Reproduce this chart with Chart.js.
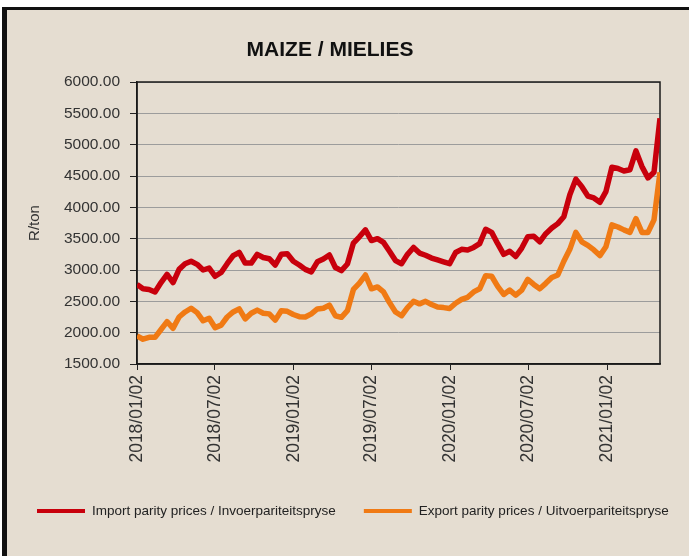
<!DOCTYPE html>
<html>
<head>
<meta charset="utf-8">
<script src="https://cdn.jsdelivr.net/npm/chart.js@4.4.1/dist/chart.umd.min.js"></script>
<style>
  html, body { margin: 0; padding: 0; background: #fff; }
  #wrap { position: relative; width: 689px; height: 556px; background: #e5ddd1; overflow: hidden; }
  #chart { position: absolute; left: 0; top: 0; }
  .edge { position: absolute; background: #111; }
  .blank { position: absolute; background: #fff; }
</style>
</head>
<body>
<div id="wrap">
  <canvas id="chart" width="689" height="556"></canvas>
  <div class="blank" style="left:0;top:0;width:689px;height:7px"></div>
  <div class="edge" style="left:0;top:7px;width:689px;height:3px"></div>
  <div class="blank" style="left:0;top:0;width:2px;height:556px"></div>
  <div class="edge" style="left:2px;top:7px;width:5px;height:549px"></div>
</div>
<script>
// values, one every two weeks from 2018/01/02
const startDate = '2018/01/02';
const stepDays = 14;

const importParity = [
  2770, 2700, 2690, 2650, 2800, 2930, 2800, 3010, 3100, 3140,
  3090, 3000, 3030, 2900, 2960, 3100, 3230, 3280, 3110, 3110,
  3250, 3200, 3180, 3080, 3250, 3260, 3140, 3080, 3010, 2970,
  3130, 3176, 3240, 3040, 2990, 3096, 3430, 3530, 3640, 3470,
  3500, 3440, 3300, 3150, 3100, 3250, 3360, 3270, 3235, 3190,
  3160, 3130, 3100, 3280, 3330, 3320, 3360, 3420, 3650, 3600,
  3420, 3250, 3300, 3215, 3350, 3530, 3540, 3450, 3580, 3670,
  3740, 3850, 4200, 4450, 4330, 4180, 4150, 4080, 4250, 4640,
  4620, 4580, 4600, 4900, 4650, 4470, 4560, 5420
];
const exportParity = [
  1950, 1895, 1925, 1925, 2050, 2175, 2070, 2250, 2330, 2390,
  2320, 2190, 2230, 2080, 2120, 2250, 2330, 2380, 2220, 2310,
  2360, 2310, 2300, 2200, 2350, 2340, 2290, 2255, 2250, 2300,
  2378, 2390, 2440, 2270, 2245, 2351, 2690, 2790, 2920, 2700,
  2730, 2650, 2480, 2330, 2270, 2400, 2500, 2460, 2500, 2450,
  2410, 2400, 2385, 2470, 2530, 2564, 2650, 2700, 2910, 2900,
  2740, 2610, 2680, 2600, 2680, 2850, 2770, 2700, 2787, 2880,
  2920, 3140, 3330, 3600, 3450, 3394, 3320, 3230, 3370, 3720,
  3686, 3640, 3600, 3819, 3600, 3600, 3800, 4560
];
const tickLabels = ['2018/01/02', '2018/07/02', '2019/01/02', '2019/07/02', '2020/01/02', '2020/07/02', '2021/01/02'];
const yMin = 1500, yMax = 6000, yStep = 500;

function dayOf(s) {
  const [y, m, d] = s.split('/').map(Number);
  const [y0, m0, d0] = startDate.split('/').map(Number);
  return Math.round((Date.UTC(y, m - 1, d) - Date.UTC(y0, m0 - 1, d0)) / 86400000);
}
const fmt = (t) => t.getUTCFullYear() + '/' + String(t.getUTCMonth() + 1).padStart(2, '0') + '/' + String(t.getUTCDate()).padStart(2, '0');
const dates = [];
for (let i = 0; i < importParity.length; i++) {
  const [y0, m0, d0] = startDate.split('/').map(Number);
  dates.push(fmt(new Date(Date.UTC(y0, m0 - 1, d0 + i * stepDays))));
}
const tickDays = tickLabels.map(dayOf);
const toPoints = (vals) => vals.map((v, i) => ({ x: dayOf(dates[i]), y: v }));

const RED = '#c8000c', ORANGE = '#f07a14';
const font = "'Liberation Sans', Arial, sans-serif";

// plot frame (top/right sides too) under the lines
const frame = {
  id: 'frame',
  beforeDatasetsDraw(chart) {
    const { ctx, chartArea: a } = chart;
    ctx.save();
    ctx.strokeStyle = '#1a1a1a';
    ctx.lineWidth = 1.5;
    ctx.strokeRect(a.left, a.top, a.width, a.height);
    ctx.restore();
  }
};

// legend row along the bottom, laid out like the original
const bottomLegend = {
  id: 'bottomLegend',
  afterDraw(chart) {
    const ctx = chart.ctx;
    let x = 37;
    const y = 511;
    ctx.save();
    ctx.font = '13.5px ' + font;
    ctx.textBaseline = 'middle';
    chart.data.datasets.forEach((ds) => {
      ctx.fillStyle = ds.borderColor;
      ctx.fillRect(x, y - 2, 48, 4);
      ctx.fillStyle = '#222';
      ctx.fillText(ds.label, x + 55, y);
      x += 55 + ctx.measureText(ds.label).width + 28;
    });
    ctx.restore();
  }
};

new Chart(document.getElementById('chart'), {
  type: 'line',
  data: {
    datasets: [
      { label: 'Import parity prices / Invoerpariteitspryse', data: toPoints(importParity),
        borderColor: RED, backgroundColor: RED, borderWidth: 5.5, pointRadius: 0, tension: 0, borderJoinStyle: 'round' },
      { label: 'Export parity prices / Uitvoerpariteitspryse', data: toPoints(exportParity),
        borderColor: ORANGE, backgroundColor: ORANGE, borderWidth: 5.5, pointRadius: 0, tension: 0, borderJoinStyle: 'round' }
    ]
  },
  plugins: [frame, bottomLegend],
  options: {
    responsive: false,
    animation: false,
    layout: { padding: { left: 0, right: 29, top: 0, bottom: 0 } },
    plugins: {
      tooltip: { enabled: false },
      legend: { display: false },
      title: {
        display: true, text: 'MAIZE / MIELIES', color: '#111',
        font: { family: font, size: 21, weight: 'bold' },
        padding: { top: 37.4, bottom: 19.4 }
      }
    },
    scales: {
      x: {
        type: 'linear', min: 0, max: dayOf(dates[dates.length - 1]),
        afterBuildTicks: (axis) => { axis.ticks = tickDays.map(v => ({ value: v })); },
        afterFit: (axis) => { axis.height = 192; },
        grid: { drawOnChartArea: false, drawTicks: true, tickLength: 6, tickColor: '#222' },
        border: { display: true, color: '#1a1a1a', width: 1.5 },
        ticks: {
          autoSkip: false, minRotation: 90, maxRotation: 90, padding: 5, color: '#333',
          font: { family: font, size: 17.5 },
          callback: (v) => { const k = tickDays.indexOf(v); return k >= 0 ? tickLabels[k] : ''; }
        }
      },
      y: {
        min: yMin, max: yMax,
        afterFit: (axis) => { axis.width = 137; },
        grid: { color: '#9c9c9c', lineWidth: 1, tickLength: 7, tickColor: '#222' },
        border: { display: true, color: '#1a1a1a', width: 1.5 },
        ticks: {
          stepSize: yStep, padding: 10, color: '#333',
          font: { family: font, size: 15.5 },
          callback: (v) => v.toFixed(2)
        },
        title: {
          display: true, text: 'R/ton', color: '#333',
          font: { family: font, size: 15 }, padding: { top: 26, bottom: 0 }
        }
      }
    }
  }
});
</script>
</body>
</html>
